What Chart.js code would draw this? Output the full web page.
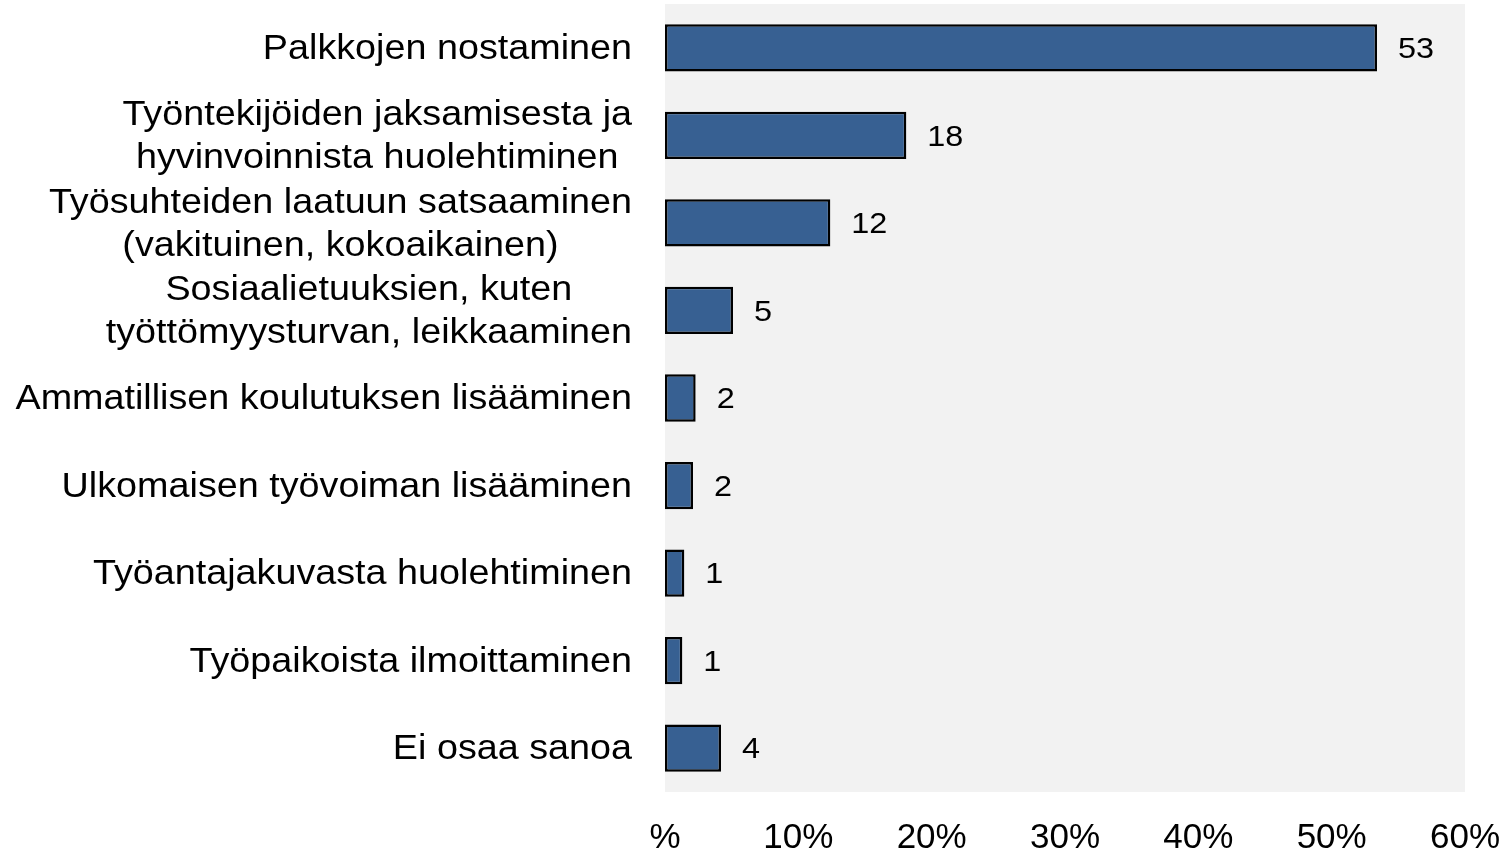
<!DOCTYPE html>
<html>
<head>
<meta charset="utf-8">
<script src="https://cdn.jsdelivr.net/npm/chart.js@4"></script>
<style>
  html, body { margin: 0; padding: 0; background: #fff; }
  #wrap { width: 1508px; height: 855px; }
</style>
</head>
<body>
<div id="wrap"><canvas id="barChart"></canvas></div>
<script>
// Vastausvaihtoehdot (rivitetyt nimet taulukkoina)
const categories = [
    'Palkkojen nostaminen',
    ['Työntekijöiden jaksamisesta ja', 'hyvinvoinnista huolehtiminen'],
    ['Työsuhteiden laatuun satsaaminen', '(vakituinen, kokoaikainen)'],
    ['Sosiaalietuuksien, kuten', 'työttömyysturvan, leikkaaminen'],
    'Ammatillisen koulutuksen lisääminen',
    'Ulkomaisen työvoiman lisääminen',
    'Työantajakuvasta huolehtiminen',
    'Työpaikoista ilmoittaminen',
    'Ei osaa sanoa'
];

// Osuudet prosentteina
const shares = [53.4, 18.1, 12.4, 5.1, 2.3, 2.1, 1.45, 1.3, 4.2];

// X-akselin jakoviivat ja niiden tekstit
const xTicks = [0, 10, 20, 30, 40, 50, 60];
const xTickLabels = ['%', '10%', '20%', '30%', '40%', '50%', '60%'];

const FONT = "'Liberation Sans', Arial, sans-serif";

// Teksti hieman leveämpänä (alkuperäisessä fontti on vaakasuunnassa leveämpi)
function wideText(ctx, text, x, y, sx) {
    ctx.save();
    ctx.translate(x, y);
    ctx.scale(sx, 1);
    ctx.fillText(text, 0, 0);
    ctx.restore();
}

// Harmaa tausta piirtoalueelle
const plotBackground = {
    id: 'plotBackground',
    beforeDraw(chart) {
        const { ctx, chartArea: a } = chart;
        ctx.save();
        ctx.fillStyle = '#f2f2f2';
        ctx.fillRect(a.left, a.top, a.right - a.left, a.bottom - a.top);
        ctx.restore();
    }
};

// Arvot palkkien perään, kategorianimet ja x-akselin tekstit
const barTexts = {
    id: 'barTexts',
    afterDatasetsDraw(chart) {
        const { ctx, chartArea } = chart;
        const meta = chart.getDatasetMeta(0);
        const xScale = chart.scales.x;
        const yScale = chart.scales.y;
        ctx.save();
        ctx.fillStyle = '#000';
        ctx.textBaseline = 'middle';

        // arvot
        ctx.font = '30px ' + FONT;
        ctx.textAlign = 'left';
        meta.data.forEach((bar, i) => {
            wideText(ctx, String(Math.round(shares[i])), bar.x + 21, bar.y + 2, 1.08);
        });

        // kategoriat: rivit keskitetty, lohko oikealle tasattu
        const sx = 1.078;
        ctx.font = '35px ' + FONT;
        ctx.textAlign = 'center';
        const right = chartArea.left - 33;
        const lineGap = 43;
        categories.forEach((cat, i) => {
            const lines = Array.isArray(cat) ? cat : [cat];
            const widest = Math.max(...lines.map(l => ctx.measureText(l).width)) * sx;
            const cx = right - widest / 2;
            const y0 = yScale.getPixelForTick(i) - (lines.length - 1) * lineGap / 2;
            lines.forEach((l, k) => wideText(ctx, l, cx, y0 + k * lineGap + 1.5, sx));
        });

        // x-akselin tekstit
        ctx.font = '35px ' + FONT;
        ctx.textAlign = 'center';
        xTicks.forEach((v, i) => {
            ctx.fillText(xTickLabels[i], xScale.getPixelForValue(v), chartArea.bottom + 46);
        });
        ctx.restore();
    }
};

const ctxBar = document.getElementById('barChart').getContext('2d');
new Chart(ctxBar, {
    type: 'bar',
    data: {
        labels: categories,
        datasets: [{
            data: shares,
            backgroundColor: '#376092',
            borderColor: '#000',
            borderWidth: 2.5,
            borderSkipped: false,
            barPercentage: 0.54,
            categoryPercentage: 1
        }]
    },
    options: {
        indexAxis: 'y',
        responsive: true,
        maintainAspectRatio: false,
        animation: false,
        layout: { padding: { top: 4, right: 43, left: 0, bottom: 0 } },
        plugins: { legend: { display: false }, tooltip: { enabled: false } },
        scales: {
            x: {
                min: xTicks[0],
                max: xTicks[xTicks.length - 1],
                grid: { display: false, drawTicks: false },
                border: { display: false },
                afterBuildTicks: scale => { scale.ticks = xTicks.map(v => ({ value: v })); },
                ticks: { display: false },
                afterFit: scale => { scale.height = 63; }
            },
            y: {
                grid: { display: false, drawTicks: false },
                border: { display: false },
                ticks: { display: false },
                afterFit: scale => { scale.width = 665; }
            }
        }
    },
    plugins: [plotBackground, barTexts]
});
</script>
</body>
</html>
